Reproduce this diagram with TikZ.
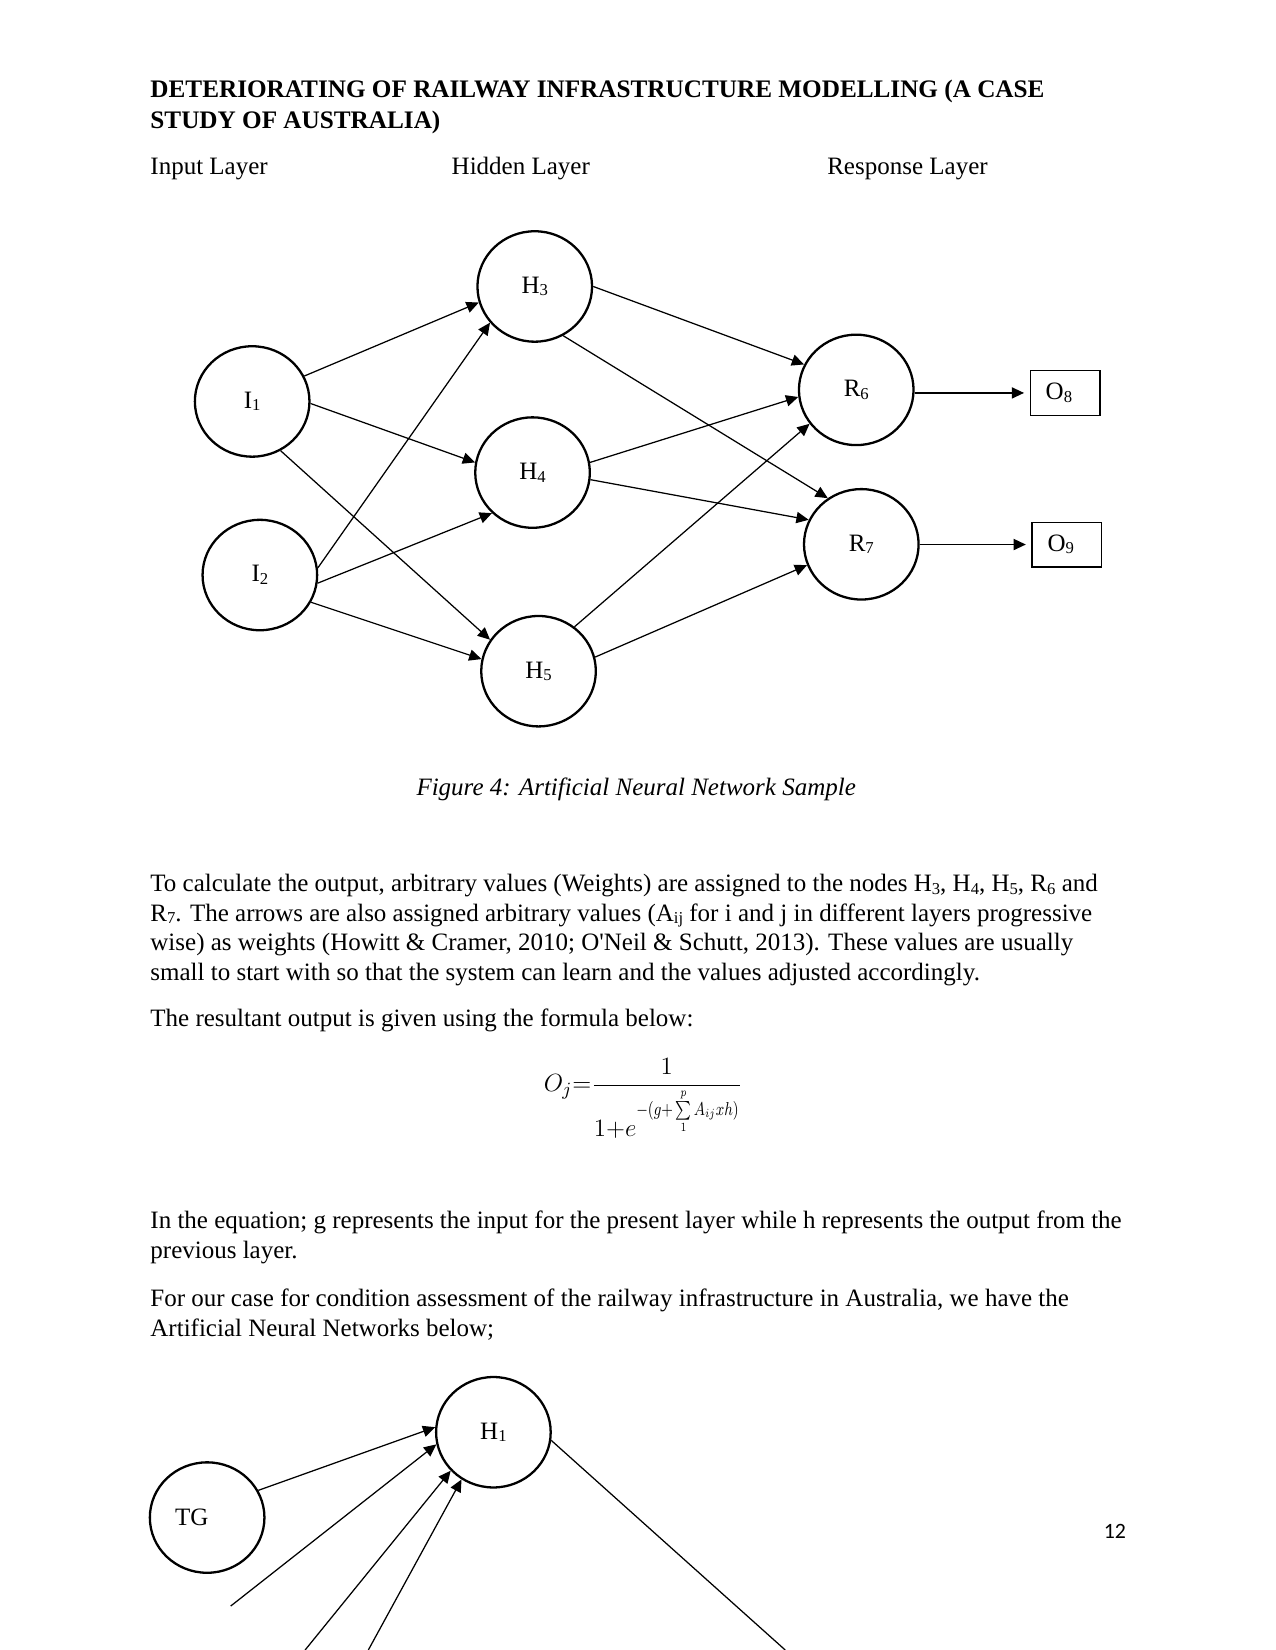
\documentclass[tikz,border=0pt]{standalone}
\usepackage{amsmath}
\usepackage{graphicx}
\usepackage{fontspec}
\setmainfont{Liberation Serif}
\newfontfamily\pagenumfont{Carlito}
\usetikzlibrary{arrows.meta, shapes.geometric}

% word-style subscript
\newcommand{\lowidx}[1]{\raisebox{-1.2bp}{\fontsize{8bp}{8bp}\selectfont #1}}

\begin{document}
\begin{tikzpicture}[
    x=0.50495bp, y=-0.50495bp,
    >={Triangle[length=5.9bp, width=5.4bp]},
    font=\fontsize{12bp}{14.2bp}\selectfont,
    neuron/.style={draw, ellipse, line width=1.1bp, minimum width=55bp, minimum height=53bp, inner sep=0pt},
    outbox/.style={draw, line width=0.6bp, minimum height=21.5bp, text width=18.6bp, inner xsep=7.4bp, inner ysep=0pt, align=left},
    link/.style={->, line width=0.6bp},
    txt/.style={anchor=base west, inner sep=0pt}
  ]
  \useasboundingbox (0,0) rectangle (1212,1568.4);

  % heading
  \node[txt, font=\fontsize{12.1bp}{14.2bp}\selectfont\bfseries] (title1) at (142.6,92.5) {DETERIORATING OF RAILWAY INFRASTRUCTURE MODELLING (A CASE};
  \node[txt, font=\fontsize{12.1bp}{14.2bp}\selectfont\bfseries] (title2) at (142.6,122) {STUDY OF AUSTRALIA)};

  % layer names
  \node[txt] (inlayer) at (142.6,166.3) {Input Layer};
  \node[txt] (hidlayer) at (429,166.3) {Hidden Layer};
  \node[txt] (resplayer) at (786,166.3) {Response Layer};

  % network of figure 4
  \node[neuron] (I1) at (239.7,381.6) {I\lowidx{1}};
  \node[neuron] (I2) at (247,546.6) {I\lowidx{2}};
  \node[neuron] (H3) at (508.3,272.3) {H\lowidx{3}};
  \node[neuron] (H4) at (506.2,449.2) {H\lowidx{4}};
  \node[neuron] (H5) at (511.9,638) {H\lowidx{5}};
  \node[neuron] (R6) at (813.9,370.6) {R\lowidx{6}};
  \node[neuron] (R7) at (818.7,517.4) {R\lowidx{7}};
  \node[outbox] (O8) at (1012.4,373.5) {O\lowidx{8}};
  \node[outbox] (O9) at (1014.1,517.6) {O\lowidx{9}};

  \draw[link] (I1.26) -- (H3.196);
  \draw[link] (I1.-2) -- (H4.170);
  \draw[link] (I1.-60) -- (H5.147);
  \draw[link] (I2.7) -- (H3.219);
  \draw[link] (I2.-8) -- (H4.225);
  \draw[link] (I2.-28) -- (H5.168);

  \draw[link] (H3.0) -- (R6.154);
  \draw[link] (H3.-60) -- (R7.126);
  \draw[link] (H4.10) -- (R6.187);
  \draw[link] (H4.-7) -- (R7.155);
  \draw[link] (H5.51) -- (R6.216);
  \draw[link] (H5.14) -- (R7.201);

  \draw[link, shorten >=2.7bp] (R6.east |- O8.west) -- (O8.west);
  \draw[link, shorten >=2.7bp] (R7.east |- O9.west) -- (O9.west);

  \node[anchor=base, inner sep=0pt, font=\fontsize{12bp}{14.2bp}\selectfont\itshape] (caption) at (604.7,755.7) {Figure 4: Artificial Neural Network Sample};

  % text
  \node[txt] (para1a) at (142.6,847.6) {To calculate the output, arbitrary values (Weights) are assigned to the nodes H\lowidx{3}, H\lowidx{4}, H\lowidx{5}, R\lowidx{6} and};
  \node[txt] (para1b) at (142.6,875.5) {R\lowidx{7}. The arrows are also assigned arbitrary values (A\lowidx{ij} for i and j in different layers progressive};
  \node[txt] (para1c) at (142.6,903.7) {wise) as weights (Howitt \& Cramer, 2010; O\textquotesingle Neil \& Schutt, 2013). These values are usually};
  \node[txt] (para1d) at (142.6,931.6) {small to start with so that the system can learn and the values adjusted accordingly.};
  \node[txt] (para2) at (142.6,976) {The resultant output is given using the formula below:};

  \node[txt, font=\fontsize{12.5bp}{14bp}\selectfont] (formula) at (516.5,1037.7) {$O_j{=}\dfrac{1}{\rule{0pt}{22.6bp}1{+}e^{\raisebox{5bp}{\scalebox{0.78}[1]{$\scriptstyle-(g{+}\sum\limits_{1}^{p}A_{ij}xh)$}}}}$};

  \node[txt] (para3a) at (142.6,1167.6) {In the equation; g represents the input for the present layer while h represents the output from the};
  \node[txt] (para3b) at (142.6,1196.2) {previous layer.};
  \node[txt] (para4a) at (142.6,1242.1) {For our case for condition assessment of the railway infrastructure in Australia, we have the};
  \node[txt] (para4b) at (142.6,1270.6) {Artificial Neural Networks below;};

  % second network (cut by the page end)
  \node[neuron, text width=30.8bp, align=left] (TG) at (196.9,1442.5) {TG};
  \node[neuron] (H1) at (469,1361.4) {H\lowidx{1}};
  \coordinate (in2) at (219.3,1526.6);
  \coordinate (in3) at (290,1568.4);
  \coordinate (in4) at (350.1,1568.4);
  \coordinate (out1) at (746.4,1568.4);

  \draw[link] (TG.28) -- (H1.175);
  \draw[link] (in2) -- (H1.192);
  \draw[link] (in3) -- (H1.222);
  \draw[link] (in4) -- (H1.236);
  \draw[line width=0.6bp] (H1.-8) -- (out1);

  \node[txt, font=\pagenumfont\fontsize{10.5bp}{12bp}\selectfont] (pagenum) at (1048.8,1462.3) {12};

\end{tikzpicture}
\end{document}
